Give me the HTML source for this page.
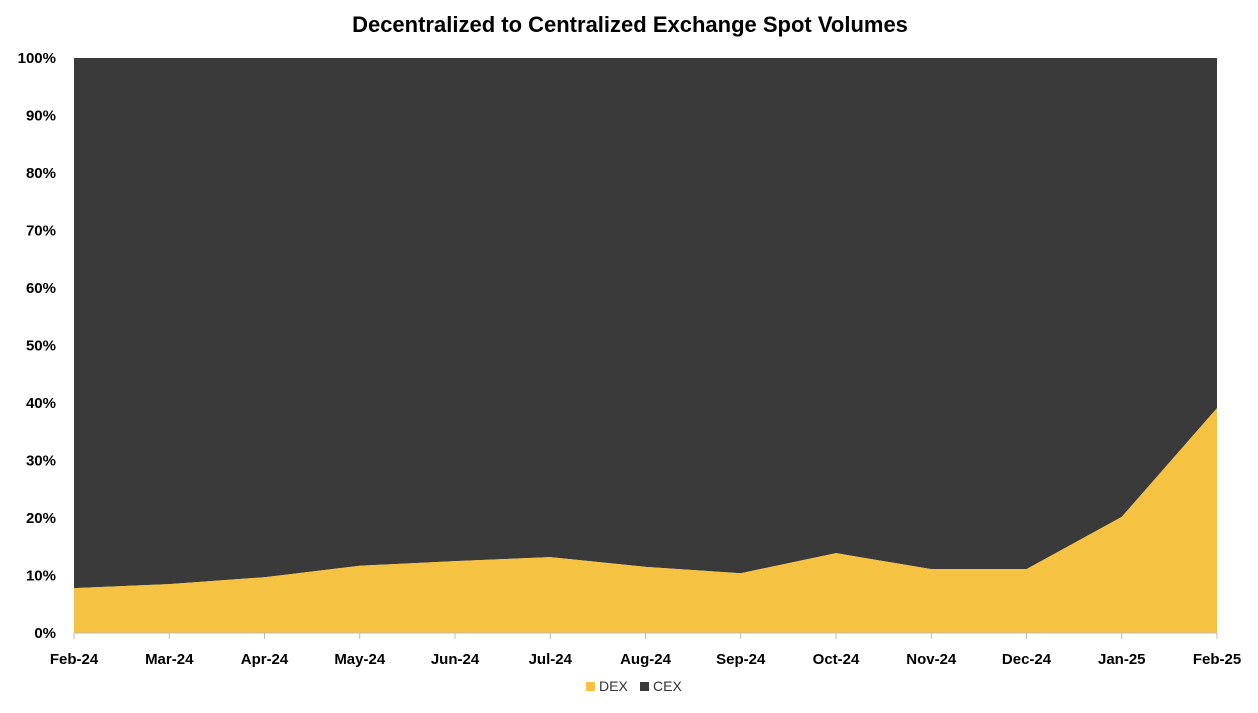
<!DOCTYPE html>
<html><head><meta charset="utf-8"><style>
body{margin:0;background:#fff;font-family:"Liberation Sans",sans-serif;}
svg text{font-family:"Liberation Sans",sans-serif;}
</style></head><body>
<svg id="chart" width="1258" height="708">
<text x="630" y="32" text-anchor="middle" font-size="22" font-weight="bold" fill="#000">Decentralized to Centralized Exchange Spot Volumes</text>
<g id="plot"></g><g id="yaxis"></g><g id="xaxis"></g>
<g>
<rect x="586" y="682" width="9" height="9" fill="#F5C242"/>
<text x="599" y="691" font-size="14" fill="#333">DEX</text>
<rect x="640" y="682" width="9" height="9" fill="#3A3A3A"/>
<text x="653" y="691" font-size="14" fill="#333">CEX</text>
</g>
</svg>
<script>
const categories=["Feb-24","Mar-24","Apr-24","May-24","Jun-24","Jul-24","Aug-24","Sep-24","Oct-24","Nov-24","Dec-24","Jan-25","Feb-25"];
const dexValues=[7.8,8.5,9.7,11.7,12.5,13.2,11.5,10.4,13.9,11.1,11.1,20.2,39.1];
const cexValues=[92.2,91.5,90.3,88.3,87.5,86.8,88.5,89.6,86.1,88.9,88.9,79.8,60.9];
const yTicks=[0,10,20,30,40,50,60,70,80,90,100];
const X0=74,X1=1217,Y0=633,Y1=58;
const xs=i=>X0+(X1-X0)*i/(categories.length-1);
const ys=v=>Y0-(Y0-Y1)*v/100;
const NS="http://www.w3.org/2000/svg";
const plotG=document.getElementById('plot');
function mk(tag,attrs,parent){const e=document.createElementNS(NS,tag);for(const k in attrs)e.setAttribute(k,attrs[k]);parent.appendChild(e);return e;}
const topPts=categories.map((c,i)=>xs(i)+','+ys(dexValues[i]+cexValues[i]));
const midPts=categories.map((c,i)=>xs(i)+','+ys(dexValues[i]));
const cex=mk('polygon',{points:topPts.concat(midPts.slice().reverse()).join(' '),fill:'#3A3A3A'},plotG);


const dex=mk('polygon',{points:midPts.concat([xs(categories.length-1)+','+ys(0),xs(0)+','+ys(0)]).join(' '),fill:'#F5C242'},plotG);


const ya=document.getElementById('yaxis');
yTicks.forEach(t=>{const tx=mk('text',{x:56,y:ys(t)+5,'text-anchor':'end','font-size':15,'font-weight':'bold',fill:'#000'},ya);tx.textContent=t+'%';

});
const xa=document.getElementById('xaxis');
const ax=mk('line',{x1:X0,x2:X1,y1:Y0,y2:Y0,stroke:'#bbb'},xa);


categories.forEach((c,i)=>{const tk=mk('line',{x1:xs(i),x2:xs(i),y1:Y0,y2:Y0+6,stroke:'#bbb'},xa);


const tx=mk('text',{x:xs(i),y:664,'text-anchor':'middle','font-size':15,'font-weight':'bold',fill:'#000'},xa);tx.textContent=c;

});
</script>
</body></html>
